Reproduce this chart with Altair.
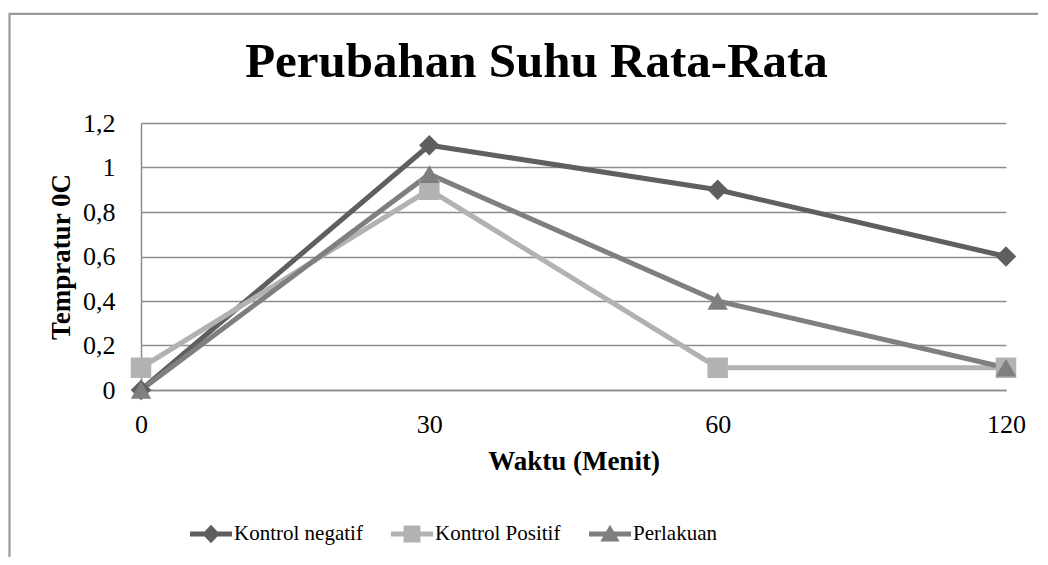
import altair as alt
import pandas as pd

waktu = ["0", "30", "60", "120"]
series_names = ["Kontrol negatif", "Kontrol Positif", "Perlakuan"]
kontrol_negatif = [0, 1.1, 0.9, 0.6]
kontrol_positif = [0.1, 0.9, 0.1, 0.1]
perlakuan = [0, 0.97, 0.4, 0.1]
y_ticks = [0, 0.2, 0.4, 0.6, 0.8, 1.0, 1.2]
colors = ["#5f5f5f", "#b2b2b2", "#7f7f7f"]
shapes = ["diamond", "square", "triangle-up"]

rows = []
for name, vals in zip(series_names, [kontrol_negatif, kontrol_positif, perlakuan]):
    for w, v in zip(waktu, vals):
        rows.append({"Waktu": w, "Suhu": v, "Seri": name})
df = pd.DataFrame(rows)

FONT = "Liberation Serif"

# legend symbols: a line with its marker
p_neg = "M-1,-0.12H1V0.12H-1Z M0,-0.44L0.42,0L0,0.44L-0.42,0Z"
p_pos = "M-1,-0.12H1V0.12H-1Z M-0.4,-0.4H0.4V0.4H-0.4Z"
p_per = "M-1,-0.12H1V0.12H-1Z M0,-0.44L0.46,0.36L-0.46,0.36Z"
shape_expr = (
    f"datum.value === '{series_names[0]}' ? '{p_neg}' : "
    f"datum.value === '{series_names[1]}' ? '{p_pos}' : '{p_per}'"
)

x_enc = alt.X(
    "Waktu:O",
    sort=waktu,
    scale=alt.Scale(type="point", padding=0),
    axis=alt.Axis(
        title="Waktu (Menit)",
        labelAngle=0,
        ticks=False,
        grid=False,
        domainColor="#8c8c8c",
        domainWidth=1.5,
        labelPadding=21,
        titlePadding=11,
    ),
)
y_enc = alt.Y(
    "Suhu:Q",
    scale=alt.Scale(domain=[0, 1.2], nice=False, zero=True),
    axis=alt.Axis(
        title="Tempratur 0C",
        values=y_ticks,
        labelExpr="replace(format(datum.value, '.1~f'), '.', ',')",
        ticks=False,
        grid=True,
        gridColor="#8c8c8c",
        gridWidth=1.5,
        domainColor="#8c8c8c",
        domainWidth=1.5,
        labelPadding=26,
        titlePadding=7,
    ),
)
color_scale = alt.Scale(domain=series_names, range=colors)

lines = alt.Chart(df).mark_line(strokeWidth=5).encode(
    x=x_enc,
    y=y_enc,
    color=alt.Color("Seri:N", sort=series_names, scale=color_scale, legend=None),
    detail="Seri:N",
)
points = alt.Chart(df).mark_point(filled=True, size=420, opacity=1).encode(
    x=x_enc,
    y=y_enc,
    color=alt.Color("Seri:N", sort=series_names, scale=color_scale, legend=None),
    shape=alt.Shape("Seri:N", sort=series_names,
                    scale=alt.Scale(domain=series_names, range=shapes),
                    legend=None),
)
# legend carrier: same series, draws no marks itself
legend_layer = alt.Chart(df).transform_filter("false").mark_point(
    filled=True, opacity=1
).encode(
    x=x_enc,
    y=y_enc,
    color=alt.Color(
        "Seri:N",
        sort=series_names,
        scale=color_scale,
        legend=alt.Legend(
            title=None,
            orient="none",
            direction="horizontal",
            legendX=49,
            legendY=390,
            padding=0,
            symbolSize=1764,
            symbolType={"expr": shape_expr},
            symbolStrokeWidth=0,
            symbolOpacity=1,
            labelOffset=2,
            columnPadding=28,
            labelFontSize=21,
            labelFont=FONT,
            labelColor="#000000",
            labelLimit=300,
        ),
    ),
)

frame = alt.Chart(pd.DataFrame({"f": [0]})).mark_rect(
    fill="transparent", stroke="#9a9a9a", strokeWidth=2.2
).encode(
    x=alt.value(-131.5), x2=alt.value(1200), y=alt.value(-109.2), y2=alt.value(900)
)

chart = (
    alt.layer(frame, lines, points, legend_layer)
    .resolve_legend(color="independent", shape="independent")
    .properties(
        width=865,
        height=267,
        title=alt.Title(
            "Perubahan Suhu Rata-Rata",
            font=FONT,
            fontSize=49,
            fontWeight="bold",
            color="#000000",
            anchor="middle",
            baseline="alphabetic",
            offset=-113,
            dx=-37,
        ),
        autosize=alt.AutoSizeParams(type="none"),
        padding={"left": 133, "top": 115, "right": 32, "bottom": 167},
    )
    .configure_axis(
        labelFont=FONT,
        labelFontSize=26,
        labelColor="#000000",
        titleFont=FONT,
        titleFontSize=27,
        titleFontWeight="bold",
        titleColor="#000000",
    )
    .configure_view(strokeOpacity=0)
)

chart.save("out.html", embed_options={"renderer": "svg", "actions": False})
